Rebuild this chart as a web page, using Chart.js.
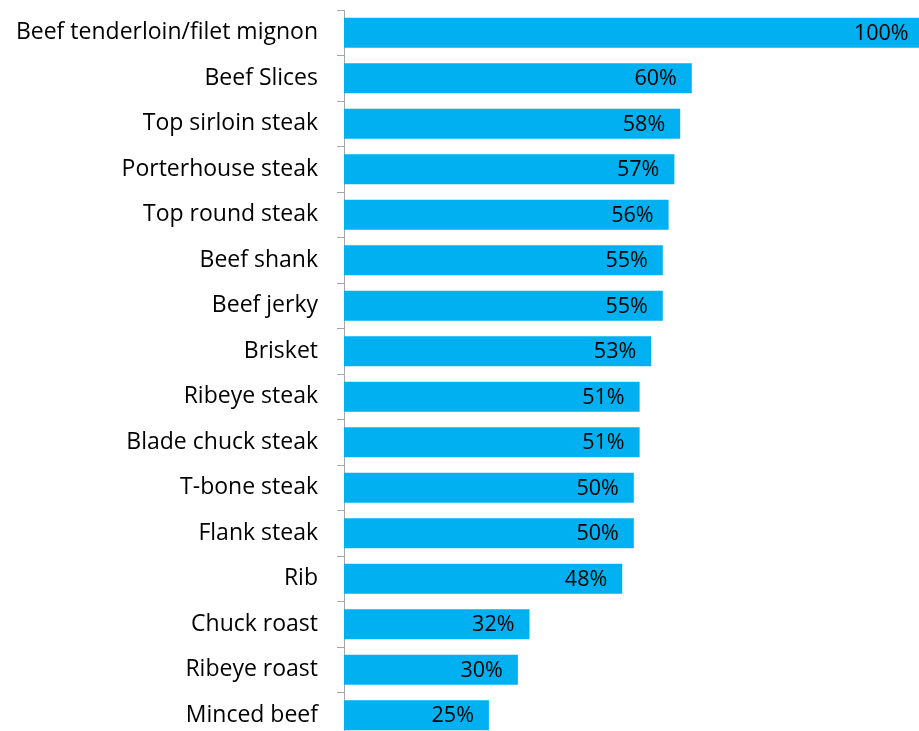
<!DOCTYPE html>
<html>
<head>
<meta charset="utf-8">
<script src="https://cdn.jsdelivr.net/npm/chart.js@4"></script>
<style>
  html, body { margin: 0; padding: 0; background: #fff; overflow: hidden; }
  #wrap { position: relative; width: 919px; height: 738px; }
</style>
</head>
<body>
<div id="wrap"><canvas id="cortes"></canvas></div>
<script>
const categorias = [
    'Beef tenderloin/filet mignon', 'Beef Slices', 'Top sirloin steak', 'Porterhouse steak',
    'Top round steak', 'Beef shank', 'Beef jerky', 'Brisket', 'Ribeye steak',
    'Blade chuck steak', 'T-bone steak', 'Flank steak', 'Rib', 'Chuck roast',
    'Ribeye roast', 'Minced beef'
]
const valores = [100, 60, 58, 57, 56, 55, 55, 53, 51, 51, 50, 50, 48, 32, 30, 25]

const azul = '#00B0F0'
const fonte = '"Open Sans", Lato, sans-serif'

// escreve o valor dentro do fim de cada barra
const rotulos = {
    id: 'rotulos',
    afterDatasetsDraw(chart) {
        const ctx = chart.ctx
        const meta = chart.getDatasetMeta(0)
        ctx.save()
        ctx.font = '21.5px ' + fonte
        ctx.fillStyle = '#000'
        ctx.textAlign = 'right'
        ctx.textBaseline = 'middle'
        meta.data.forEach(function(barra, i){
            const x = Math.min(barra.x, chart.chartArea.right + 6)
            ctx.fillText(valores[i] + '%', x - 15, barra.y + 1)
        })
        ctx.restore()
    }
}

const ctx = document.getElementById('cortes').getContext('2d')
const grafico = new Chart(ctx, {
    type: 'bar',
    data: {
        labels: categorias,
        datasets: [{
            data: valores,
            backgroundColor: azul,
            borderWidth: 0,
            barPercentage: 0.66,
            categoryPercentage: 1
        }]
    },
    options: {
        indexAxis: 'y',
        responsive: true,
        maintainAspectRatio: false,
        animation: false,
        layout: { padding: { top: 10, left: 0, right: 0, bottom: 0 } },
        plugins: {
            legend: { display: false },
            tooltip: { enabled: false }
        },
        scales: {
            x: {
                display: false,
                min: 0,
                max: 99.2
            },
            y: {
                afterFit: function(scale){
                    scale.width = 344
                    scale.paddingTop = 0
                    scale.paddingBottom = 0
                },
                grid: {
                    offset: true,
                    drawOnChartArea: false,
                    drawTicks: true,
                    tickLength: 7,
                    color: '#A6A6A6'
                },
                border: { display: true, color: '#A6A6A6', width: 1 },
                ticks: {
                    padding: 19,
                    color: '#000',
                    font: { family: fonte, size: 23 }
                }
            }
        }
    },
    plugins: [rotulos]
})
</script>
</body>
</html>
